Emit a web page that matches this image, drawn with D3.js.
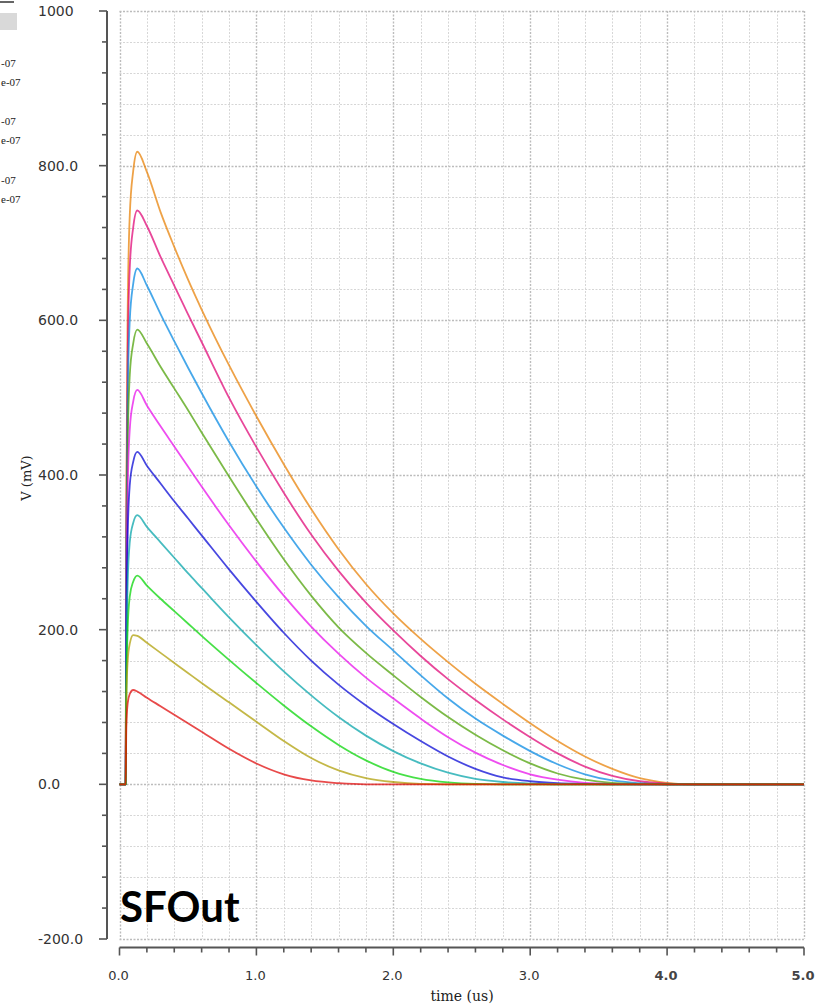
<!DOCTYPE html>
<html>
<head>
<meta charset="utf-8">
<script src="https://cdn.jsdelivr.net/npm/d3@7"></script>
<style>
  html, body { margin: 0; padding: 0; background: #ffffff; }
  svg { display: block; }
</style>
</head>
<body>
<div id="chart"></div>
<script>
// ---------------- data ----------------
const times = [0, 0.045, 0.05, 0.06, 0.075, 0.1, 0.13, 0.2, 0.3, 0.4, 0.5, 0.6, 0.8, 1.0, 1.2, 1.4, 1.6, 1.8, 2.0, 2.2, 2.4, 2.6, 2.8, 3.0, 3.2, 3.4, 3.6, 3.8, 4.0, 4.2, 5.0];

const vOrange     = [0, 0, 368, 614, 736, 793, 818, 792, 740, 695, 653, 614, 542, 476, 414, 356, 304, 259, 221, 188, 158, 130, 104, 79, 56, 36, 20, 8, 2, 0, 0];
const vPink       = [0, 0, 334, 556, 668, 720, 742, 722, 682, 645, 608, 572, 500, 436, 377, 323, 276, 235, 199, 166, 136, 109, 84, 61, 40, 23, 11, 4, 1, 0, 0];
const vLightBlue  = [0, 0, 300, 500, 600, 647, 667, 645, 608, 573, 539, 506, 443, 385, 332, 284, 242, 205, 173, 141, 111, 85, 63, 43, 26, 13, 5, 1.5, 0, 0, 0];
const vOliveGreen = [0, 0, 265, 441, 529, 570, 588, 570, 540, 512, 484, 455, 398, 343, 291, 244, 203, 170, 141, 113, 87, 64, 44, 27, 14, 6, 2, 0.5, 0, 0, 0];
const vMagenta    = [0, 0, 230, 383, 459, 495, 510, 490, 463, 437, 411, 385, 335, 288, 244, 204, 169, 138, 111, 85, 61, 41, 25, 13, 6, 2, 0.5, 0, 0, 0, 0];
const vBlue       = [0, 0, 194, 323, 387, 417, 430, 412, 389, 366, 344, 322, 278, 236, 196, 160, 129, 102, 78, 56, 36, 20, 9, 4, 1.5, 0.5, 0, 0, 0, 0, 0];
const vTeal       = [0, 0, 157, 261, 313, 338, 348, 333, 313, 293, 273, 254, 216, 180, 146, 115, 87, 63, 43, 27, 15, 7, 3, 1, 0, 0, 0, 0, 0, 0, 0];
const vGreen      = [0, 0, 122, 203, 243, 262, 270, 257, 240, 224, 208, 192, 161, 131, 102, 75, 51, 31, 16, 7, 2.5, 0.5, 0, 0, 0, 0, 0, 0, 0, 0, 0];
const vOlive      = [0, 0, 110, 160, 182, 193, 192, 183, 170, 157, 144, 131, 106, 81, 56, 34, 18, 8, 3, 0.5, 0, 0, 0, 0, 0, 0, 0, 0, 0, 0, 0];
const vRed        = [0, 0, 75, 105, 117, 122, 120, 112, 101, 90, 79, 68, 46, 27, 13, 5, 1.5, 0, 0, 0, 0, 0, 0, 0, 0, 0, 0, 0, 0, 0, 0];

const seriesNames  = ["orange", "pink", "lightBlue", "oliveGreen", "magenta", "blue", "teal", "green", "olive", "red"];
const seriesValues = [vOrange, vPink, vLightBlue, vOliveGreen, vMagenta, vBlue, vTeal, vGreen, vOlive, vRed];
// base colours, drawn semi-transparent so that overlapping traces blend (as in the reference)
const seriesColors = ["#e77e00", "#df0073", "#0086e2", "#4a9f00", "#e709ea", "#0000d4", "#00a2a8", "#00d400", "#ad9c00", "#df0404"];

const yTickLabels = ["-200.0", "0.0", "200.0", "400.0", "600.0", "800.0", "1000"];
const yTickValues = [-200, 0, 200, 400, 600, 800, 1000];
const xTickLabels = ["0.0", "1.0", "2.0", "3.0", "4.0", "5.0"];
const xTickValues = [0, 1, 2, 3, 4, 5];
const legendFragments = ["-07", "e-07", "-07", "e-07", "-07", "e-07"];
const chartTitle = "SFOut";
const xTitle = "time (us)";
const yTitle = "V (mV)";

// ---------------- layout ----------------
const W = 826, H = 1005;
const plot = { left: 119.5, right: 804, top: 11, bottom: 939 };

const svg = d3.select("#chart").append("svg")
  .attr("width", W).attr("height", H)
  .style("font-family", "'DejaVu Sans', sans-serif");

svg.append("rect").attr("width", W).attr("height", H).attr("fill", "#ffffff");

const x = d3.scaleLinear().domain([0, 5]).range([plot.left, plot.right]);
const y = d3.scaleLinear().domain([-200, 1000]).range([plot.bottom, plot.top]);

// ---------------- grid ----------------
const grid = svg.append("g");
const xGridVals = d3.range(0, 26).map(i => i * 0.2);
const yGridVals = d3.range(0, 31).map(i => -200 + i * 40);

grid.selectAll("line.vg").data(xGridVals).join("line")
  .attr("x1", d => Math.round(x(d)) + 0.5).attr("x2", d => Math.round(x(d)) + 0.5)
  .attr("y1", plot.top).attr("y2", plot.bottom)
  .attr("stroke", (d, i) => (i % 5 === 0) ? "#bcbcbc" : "#d6d6d6")
  .attr("stroke-width", (d, i) => (i % 5 === 0) ? 1.4 : 1)
  .attr("stroke-dasharray", "2,1.5");

grid.selectAll("line.hg").data(yGridVals).join("line")
  .attr("y1", d => Math.round(y(d)) + 0.5).attr("y2", d => Math.round(y(d)) + 0.5)
  .attr("x1", plot.left).attr("x2", plot.right)
  .attr("stroke", (d, i) => (i % 5 === 0) ? "#bcbcbc" : "#d6d6d6")
  .attr("stroke-width", (d, i) => (i % 5 === 0) ? 1.4 : 1)
  .attr("stroke-dasharray", "2,1.5");

// ---------------- curves ----------------
const line = d3.line()
  .x(d => x(d[0]))
  .y(d => y(d[1]))
  .curve(d3.curveMonotoneX);

const curves = svg.append("g");
seriesValues.forEach((vals, i) => {
  const pts = times.map((t, k) => [t, vals[k]]);
  curves.append("path")
    .datum(pts)
    .attr("fill", "none")
    .attr("stroke", seriesColors[i])
    .attr("stroke-opacity", 0.72)
    .attr("stroke-width", 1.8)
    .attr("stroke-linejoin", "round")
    .attr("d", line);
});

// ---------------- y axis ----------------
const yAxisX = 107;
const yMinor = d3.range(0, 31).map(i => -200 + i * 40);
const yAx = svg.append("g").attr("transform", `translate(${yAxisX},0)`);
yAx.append("line").attr("x1", 0).attr("x2", 0).attr("y1", y(1000)).attr("y2", y(-200))
  .attr("stroke", "#555").attr("stroke-width", 2);
yAx.selectAll("line.t").data(yMinor).join("line")
  .attr("x1", d => (d % 200 === 0) ? -8 : -5).attr("x2", 0)
  .attr("y1", d => y(d)).attr("y2", d => y(d))
  .attr("stroke", "#555").attr("stroke-width", 1.6);
svg.append("g").selectAll("text").data(yTickValues).join("text")
  .attr("x", 38).attr("y", d => y(d)).attr("dy", "0.36em")
  .attr("font-size", 14).attr("fill", "#333")
  .text((d, i) => yTickLabels[i]);

// ---------------- x axis ----------------
const xAxisY = 947.5;
const xMinor = d3.range(0, 26).map(i => i * 0.2);
const xAx = svg.append("g").attr("transform", `translate(0,${xAxisY})`);
xAx.append("line").attr("x1", x(0)).attr("x2", x(5)).attr("y1", 0).attr("y2", 0)
  .attr("stroke", "#555").attr("stroke-width", 2);
xAx.selectAll("line.t").data(xMinor).join("line")
  .attr("x1", d => x(d)).attr("x2", d => x(d))
  .attr("y1", 0).attr("y2", (d, i) => (i % 5 === 0) ? 8 : 5)
  .attr("stroke", "#555").attr("stroke-width", 1.6);
svg.append("g").selectAll("text").data(xTickValues).join("text")
  .attr("x", d => x(d) - 1).attr("y", 980)
  .attr("text-anchor", "middle")
  .attr("font-size", 13)
  .attr("font-weight", d => d >= 4 ? "bold" : "normal")
  .attr("fill", d => d >= 4 ? "#444" : "#333")
  .text((d, i) => xTickLabels[i]);

// ---------------- titles ----------------
svg.append("text")
  .attr("x", 462).attr("y", 1001)
  .attr("text-anchor", "middle")
  .attr("font-family", "'DejaVu Serif', serif")
  .attr("font-size", 14).attr("fill", "#222")
  .text(xTitle);

svg.append("text")
  .attr("transform", "translate(31,478) rotate(-90)")
  .attr("text-anchor", "middle")
  .attr("font-family", "'DejaVu Serif', serif")
  .attr("font-size", 13).attr("fill", "#222")
  .text(yTitle);

svg.append("text")
  .attr("x", 120).attr("y", 922)
  .attr("font-family", "Lato, 'Open Sans', sans-serif")
  .attr("font-weight", 700)
  .attr("font-size", 42).attr("fill", "#000")
  .text(chartTitle);

// ---------------- legend fragment (left edge) ----------------
const leg = svg.append("g");
leg.append("line").attr("x1", 0).attr("x2", 14).attr("y1", 2).attr("y2", 2)
  .attr("stroke", "#333").attr("stroke-width", 1.5);
leg.append("rect").attr("x", 0).attr("y", 13).attr("width", 17).attr("height", 17).attr("fill", "#d9d9d9");
const legY = [63, 82, 121, 140, 180, 199];
leg.selectAll("text").data(legendFragments).join("text")
  .attr("x", 1).attr("y", (d, i) => legY[i]).attr("dy", "0.35em")
  .attr("font-family", "'Liberation Serif', serif")
  .attr("font-size", 11).attr("fill", "#222")
  .text(d => d);
</script>
</body>
</html>
